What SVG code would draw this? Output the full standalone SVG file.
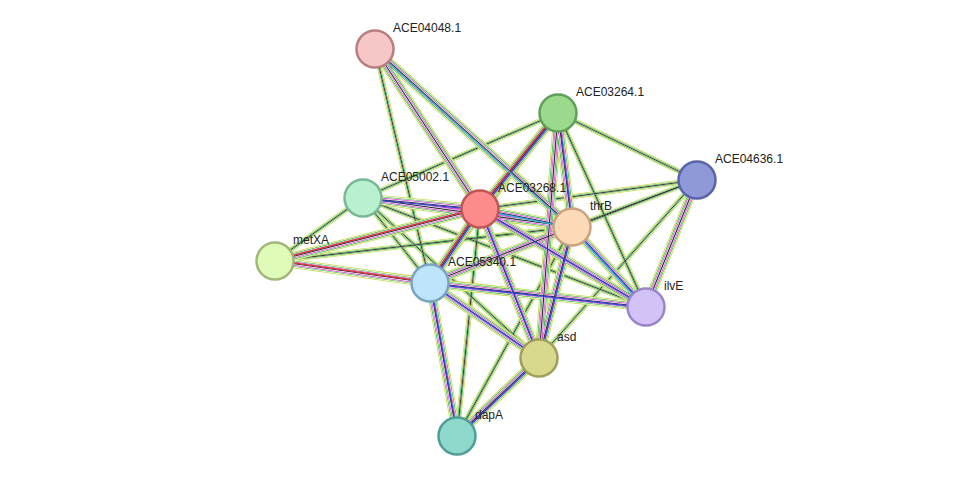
<svg xmlns="http://www.w3.org/2000/svg" width="976" height="482" viewBox="0 0 976 482">
<style>
.l1{stroke:#c8d84a;stroke-width:9}.l2{stroke:#fff;stroke-width:7.4}.l3{stroke:#2fb82f;stroke-width:6.2}.l4{stroke:#fff;stroke-width:4.8}
.l5{stroke:#d63fd6;stroke-width:3.8}.l6{stroke:#fff;stroke-width:2.4}.l7{stroke:#333;stroke-width:1.2}
.s1{stroke:#c8d84a;stroke-width:5}.s2{stroke:#fff;stroke-width:3.6}.s3{stroke:#2fb82f;stroke-width:2.6}.s4{stroke:#fff;stroke-width:1.4}.s5{stroke:#333;stroke-width:1}
.b{stroke:#3344dd;stroke-width:1.2}.r{stroke:#e03030;stroke-width:1.2}.c{stroke:#33b8d0;stroke-width:1.2}
circle{stroke-width:2.5}
text{font-family:"Liberation Sans",Arial,sans-serif;font-size:12px;fill:#222}
</style>
<defs>
<path id="S" d="M558 113L363 198M558 113L697 180M558 113L646 307M697 180L480 209M697 180L572 227M697 180L539 358M697 180L430 283M363 198L275 261M363 198L430 283M363 198L539 358M363 198L646 307M480 209L457 436M572 227L275 261M275 261L646 307M572 227L457 436M375 49L430 283M558 113L430 283"/>
<path id="R" d="M375 49L480 209M375 49L572 227M558 113L480 209M558 113L572 227M558 113L539 358M697 180L646 307M363 198L480 209M363 198L572 227M480 209L275 261M480 209L572 227M480 209L430 283M480 209L539 358M480 209L646 307M572 227L430 283M572 227L539 358M572 227L646 307M275 261L430 283M430 283L539 358M430 283L646 307M430 283L457 436M539 358L457 436"/>
</defs>
<rect width="976" height="482" fill="#fff"/>
<g id="connectors" fill="none">
<use href="#S" class="s1"/><use href="#S" class="s2"/><use href="#S" class="s3"/><use href="#S" class="s4"/><use href="#S" class="s5"/>
<use href="#R" class="l1"/><use href="#R" class="l2"/><use href="#R" class="l3"/><use href="#R" class="l4"/><use href="#R" class="l5"/><use href="#R" class="l6"/><use href="#R" class="l7"/>
<path d="M558 113L480 209M558 113L572 227M480 209L572 227M480 209L430 283M480 209L539 358M480 209L646 307M572 227L539 358M572 227L646 307M430 283L539 358M430 283L646 307M430 283L457 436M539 358L457 436M363 198L480 209" class="b" transform="translate(0.8,0.8)"/>
<path d="M480 209L275 261M275 261L430 283M558 113L480 209M480 209L430 283" class="r" transform="translate(-0.8,-0.8)"/>
<path d="M375 49L572 227M480 209L572 227M572 227L646 307" class="c" transform="translate(-0.8,0.8)"/>
</g>
<g id="ACE04048.1"><circle cx="375" cy="49" r="18.5" fill="#f7c6c6" stroke="#b97f7f"/><text x="393" y="32">ACE04048.1</text></g>
<g id="ACE03264.1"><circle cx="558" cy="113" r="18.5" fill="#9bd98d" stroke="#5fa05a"/><text x="576" y="96">ACE03264.1</text></g>
<g id="ACE04636.1"><circle cx="697" cy="180" r="18.5" fill="#8f99d8" stroke="#5a63a8"/><text x="715" y="163">ACE04636.1</text></g>
<g id="ACE05002.1"><circle cx="363" cy="198" r="18.5" fill="#b8f0d0" stroke="#7ab895"/><text x="381" y="181">ACE05002.1</text></g>
<g id="ACE03268.1"><circle cx="480" cy="209" r="18.5" fill="#ff8c8c" stroke="#c45555"/><text x="498" y="192">ACE03268.1</text></g>
<g id="thrB"><circle cx="572" cy="227" r="18.5" fill="#fcd9b7" stroke="#c9a37e"/><text x="590" y="210">thrB</text></g>
<g id="metXA"><circle cx="275" cy="261" r="18.5" fill="#e0fbb8" stroke="#a2b87a"/><text x="293" y="244">metXA</text></g>
<g id="ACE05340.1"><circle cx="430" cy="283" r="18.5" fill="#bde4fa" stroke="#7aa3c0"/><text x="448" y="266">ACE05340.1</text></g>
<g id="ilvE"><circle cx="646" cy="307" r="18.5" fill="#d3c2f7" stroke="#9a85c8"/><text x="664" y="290">ilvE</text></g>
<g id="asd"><circle cx="539" cy="358" r="18.5" fill="#d9d98e" stroke="#a0a05a"/><text x="557" y="341">asd</text></g>
<g id="dapA"><circle cx="457" cy="436" r="18.5" fill="#8ed8cc" stroke="#4f9e95"/><text x="475" y="419">dapA</text></g>
</svg>
